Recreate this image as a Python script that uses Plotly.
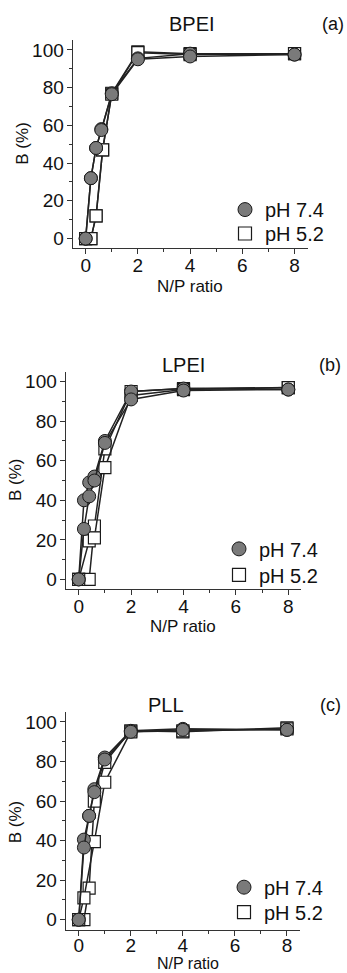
import plotly.graph_objects as go

# ---------------- data ----------------
panel_titles = ["BPEI", "LPEI", "PLL"]
panel_labels = ["(a)", "(b)", "(c)"]
legend_names = ["pH 7.4", "pH 5.2"]
x_ticks = [0, 2, 4, 6, 8]
y_ticks = [0, 20, 40, 60, 80, 100]

# panel (a) BPEI
a_ph74_r1_x = [0, 0.2, 0.4, 0.6, 1, 2, 4, 8]
a_ph74_r1_y = [0, 32, 48, 58, 77, 95.5, 98, 97.5]
a_ph74_r2_x = [0, 0.2, 0.4, 0.6, 1, 2, 4, 8]
a_ph74_r2_y = [0, 32, 48, 57.5, 76.5, 95, 96.5, 97.5]
a_ph52_r1_x = [0, 0.2, 0.4, 0.65, 1, 2, 4, 8]
a_ph52_r1_y = [0, 0, 12, 47, 77, 99, 98, 98]
a_ph52_r2_x = [0, 0.2, 0.4, 0.65, 1, 2, 4, 8]
a_ph52_r2_y = [0, 0, 12, 47, 76.5, 98.5, 97.5, 98]

# panel (b) LPEI
b_ph74_r1_x = [0, 0.2, 0.4, 0.6, 1, 2, 4, 8]
b_ph74_r1_y = [0, 40, 49, 52, 70, 95, 96.5, 96]
b_ph74_r2_x = [0, 0.2, 0.4, 0.6, 1, 2, 4, 8]
b_ph74_r2_y = [0, 25.5, 42, 50, 69, 91, 95.5, 96]
b_ph52_r1_x = [0, 0.4, 0.6, 1, 2, 4, 8]
b_ph52_r1_y = [0, 0, 27, 66, 95, 96.5, 97]
b_ph52_r2_x = [0, 0.4, 0.6, 1, 2, 4, 8]
b_ph52_r2_y = [0, 19.5, 21, 56.5, 93, 96, 97]

# panel (c) PLL
c_ph74_r1_x = [0, 0.2, 0.4, 0.6, 1, 2, 4, 8]
c_ph74_r1_y = [0, 40.5, 52.5, 66, 82, 95.5, 96.5, 96]
c_ph74_r2_x = [0, 0.2, 0.4, 0.6, 1, 2, 4, 8]
c_ph74_r2_y = [0, 36.5, 52.5, 64.5, 81, 95, 96, 96]
c_ph52_r1_x = [0, 0.2, 0.4, 0.6, 1, 2, 4, 8]
c_ph52_r1_y = [0, 0, 16, 60, 79.5, 95.5, 95, 97]
c_ph52_r2_x = [0, 0.2, 0.6, 1, 2, 4, 8]
c_ph52_r2_y = [0, 11, 39.5, 69.5, 95, 95.5, 96.5]

panels = [
    dict(ph74=[(a_ph74_r1_x, a_ph74_r1_y), (a_ph74_r2_x, a_ph74_r2_y)],
         ph52=[(a_ph52_r1_x, a_ph52_r1_y), (a_ph52_r2_x, a_ph52_r2_y)]),
    dict(ph74=[(b_ph74_r1_x, b_ph74_r1_y), (b_ph74_r2_x, b_ph74_r2_y)],
         ph52=[(b_ph52_r1_x, b_ph52_r1_y), (b_ph52_r2_x, b_ph52_r2_y)]),
    dict(ph74=[(c_ph74_r1_x, c_ph74_r1_y), (c_ph74_r2_x, c_ph74_r2_y)],
         ph52=[(c_ph52_r1_x, c_ph52_r1_y), (c_ph52_r2_x, c_ph52_r2_y)]),
]

# ---------------- layout geometry (pixels) ----------------
W, H = 347, 973
FONT = "Liberation Sans, Arial, sans-serif"
geo = [
    dict(x0=72.6, x1=307.6, yt=39.5, yb=247.5,
         title=(192, 23), label=(333, 23), xt=(190, 286), xt_size=17, yt_lab=(23, 143),
         leg_x=225, leg_y=(209, 233), standoff=-5),
    dict(x0=65.6, x1=301.4, yt=371.5, yb=589.5,
         title=(183, 365), label=(330, 365), xt=(183, 627), xt_size=17, yt_lab=(15, 480),
         leg_x=219, leg_y=(549, 575), standoff=-5),
    dict(x0=65.7, x1=300.0, yt=712.5, yb=930.5,
         title=(166, 705), label=(330, 705), xt=(188, 964), xt_size=16, yt_lab=(15, 823),
         leg_x=224, leg_y=(888, 913), standoff=-6),
]

LINE = "#222222"
CIRC_FILL = "#7a7a7a"
EDGE = "#1a1a1a"

fig = go.Figure()
annotations = []
layout = {}
leg_count = 0

for i, (p, g) in enumerate(zip(panels, geo)):
    n = "" if i == 0 else str(i + 1)
    xa, ya = "x" + n, "y" + n
    for (xs, ys) in p["ph52"]:
        fig.add_trace(go.Scatter(
            x=xs, y=ys, mode="lines+markers", xaxis=xa, yaxis=ya, showlegend=False,
            line=dict(color=LINE, width=1.5),
            marker=dict(symbol="square", size=12, color="white",
                        line=dict(color=EDGE, width=1.2))))
    for (xs, ys) in p["ph74"]:
        fig.add_trace(go.Scatter(
            x=xs, y=ys, mode="lines+markers", xaxis=xa, yaxis=ya, showlegend=False,
            line=dict(color=LINE, width=1.5),
            marker=dict(symbol="circle", size=13, color=CIRC_FILL,
                        line=dict(color=EDGE, width=1))))
    # legend entries, each in its own legend box so spacing matches the figure
    leg_markers = [
        dict(symbol="circle", size=14, color=CIRC_FILL, line=dict(color=EDGE, width=1)),
        dict(symbol="square", size=13, color="white", line=dict(color=EDGE, width=1.2)),
    ]
    for k in range(2):
        leg_count += 1
        leg = "legend" if leg_count == 1 else "legend" + str(leg_count)
        fig.add_trace(go.Scatter(
            x=[None], y=[None], mode="markers", name=legend_names[k], xaxis=xa, yaxis=ya,
            legend=leg, marker=leg_markers[k]))
        layout[leg] = dict(
            x=g["leg_x"] / W, y=1 - g["leg_y"][k] / H, xanchor="left", yanchor="middle",
            bgcolor="rgba(0,0,0,0)", borderwidth=0,
            font=dict(family=FONT, size=20, color="#111"))

    axis_common = dict(showline=True, linecolor="#333333", linewidth=1, showgrid=False,
                       zeroline=False, ticks="outside", ticklen=5, tickwidth=1,
                       tickcolor="#333333", tickfont=dict(family=FONT, size=19, color="#111"))
    layout["xaxis" + n] = dict(
        axis_common, domain=[g["x0"] / W, g["x1"] / W], range=[-0.5, 8.5],
        tickvals=x_ticks, anchor=ya, ticklabelstandoff=g["standoff"],
        minor=dict(ticks="outside", ticklen=3, tickwidth=1, tickcolor="#333333",
                   dtick=1, tick0=0))
    layout["yaxis" + n] = dict(
        axis_common, domain=[1 - g["yb"] / H, 1 - g["yt"] / H], range=[-5, 105],
        tickvals=y_ticks, anchor=xa, ticklabelstandoff=-1,
        minor=dict(ticks="outside", ticklen=3, tickwidth=1, tickcolor="#333333",
                   dtick=10, tick0=0))

    def ann(text, pos, size, angle=0):
        return dict(text=text, x=pos[0] / W, y=1 - pos[1] / H, xref="paper", yref="paper",
                    xanchor="center", yanchor="middle", showarrow=False, textangle=angle,
                    font=dict(family=FONT, size=size, color="#111"))
    annotations.append(ann(panel_titles[i], g["title"], 20))
    annotations.append(ann(panel_labels[i], g["label"], 18))
    annotations.append(ann("N/P ratio", g["xt"], g["xt_size"]))
    annotations.append(ann("B (%)", g["yt_lab"], 17, -90))

fig.update_layout(
    width=W, height=H, margin=dict(l=0, r=0, t=0, b=0),
    paper_bgcolor="white", plot_bgcolor="white",
    font=dict(family=FONT, color="#111"),
    annotations=annotations, **layout)

fig.write_html("out.html")
